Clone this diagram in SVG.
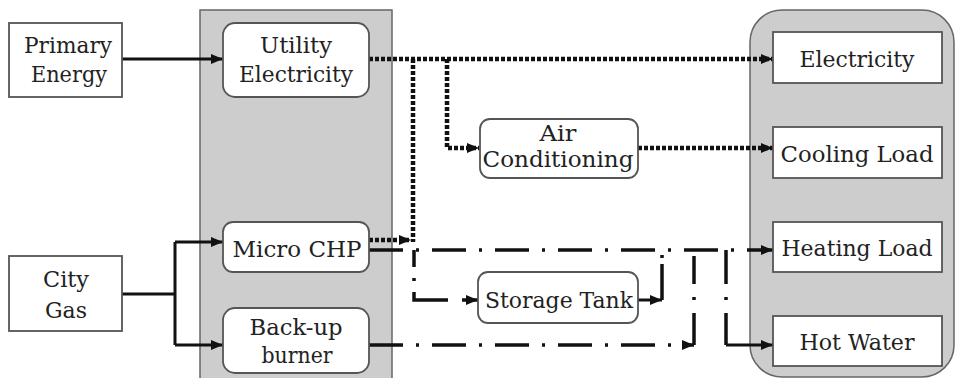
<svg xmlns="http://www.w3.org/2000/svg" width="956" height="378" viewBox="0 0 956 378">
<defs>
<marker id="ah" viewBox="0 0 12 10" refX="12" refY="5" markerWidth="12" markerHeight="10" markerUnits="userSpaceOnUse" orient="auto">
<path d="M0,0 L12,5 L0,10 z" fill="#111"/>
</marker>
<style>
.panel{fill:#cdcdcd;stroke:#666;stroke-width:1.5}
.box{fill:#fff;stroke:#555;stroke-width:1.8}
.solid{fill:none;stroke:#111;stroke-width:3}
.dot{fill:none;stroke:#111;stroke-width:4.5;stroke-dasharray:4 2}
.dd{fill:none;stroke:#111;stroke-width:3.5;stroke-dasharray:34 13 3 13}
</style>
</defs>
<rect width="956" height="378" fill="#fff"/>
<g id="panels">
<rect class="panel" x="200" y="10" width="192" height="390"/>
<rect class="panel" x="750" y="10" width="204" height="367" rx="32"/>
</g>
<g id="connectors">
<path class="solid" d="M122,59 H223" stroke-width="4" marker-end="url(#ah)"/>
<path class="solid" d="M122,294 H175 M175,242 V345"/>
<path class="solid" d="M175,242 H223" marker-end="url(#ah)"/>
<path class="solid" d="M175,345 H223" marker-end="url(#ah)"/>
<path class="dot" d="M369,59 H773" marker-end="url(#ah)"/>
<path class="dot" d="M413,59 V242"/>
<path class="dot" d="M447,59 V148 H479" marker-end="url(#ah)"/>
<path class="dot" d="M369,240 H411" marker-end="url(#ah)"/>
<path class="dot" d="M638,148 H773" marker-end="url(#ah)"/>
<path class="dd" d="M369,250 H773" marker-end="url(#ah)"/>
<path class="dd" d="M414,250 V300 H478" style="stroke-dasharray:17 11 3 11 42 14 40" marker-end="url(#ah)"/>
<path class="solid" d="M638,300 H662" stroke-width="3.5" marker-end="url(#ah)"/>
<path class="dd" d="M662,300 V252" style="stroke-dasharray:36 6 3 20"/>
<path class="dd" d="M369,345 H694" marker-end="url(#ah)"/>
<path class="dd" d="M694,345 V256" style="stroke-dasharray:32 13 3 13 40"/>
<path class="dd" d="M726,250 V345"/>
<path class="solid" d="M726,345 H773" stroke-width="3.5" marker-end="url(#ah)"/>
</g>
<g font-family="DejaVu Serif, Liberation Serif, serif" font-size="22" fill="#222" text-anchor="middle">
<g id="primary-energy">
<rect class="box" x="9" y="23" width="113" height="74"/>
<text x="68" y="53" textLength="88" lengthAdjust="spacingAndGlyphs">Primary</text>
<text x="69" y="82" textLength="76" lengthAdjust="spacingAndGlyphs">Energy</text>
</g>
<g id="city-gas">
<rect class="box" x="9" y="256" width="113" height="75"/>
<text x="66" y="287" textLength="46" lengthAdjust="spacingAndGlyphs">City</text>
<text x="66" y="318" textLength="42" lengthAdjust="spacingAndGlyphs">Gas</text>
</g>
<g id="utility-electricity">
<rect class="box" x="223" y="23" width="146" height="74" rx="12"/>
<text x="296" y="53" textLength="72" lengthAdjust="spacingAndGlyphs">Utility</text>
<text x="296" y="82" textLength="114" lengthAdjust="spacingAndGlyphs">Electricity</text>
</g>
<g id="micro-chp">
<rect class="box" x="223" y="222" width="146" height="50" rx="10"/>
<text x="297" y="257" textLength="129" lengthAdjust="spacingAndGlyphs">Micro CHP</text>
</g>
<g id="backup-burner">
<rect class="box" x="223" y="308" width="146" height="65" rx="12"/>
<text x="296" y="335" textLength="93" lengthAdjust="spacingAndGlyphs">Back-up</text>
<text x="297" y="363" textLength="71" lengthAdjust="spacingAndGlyphs">burner</text>
</g>
<g id="air-conditioning">
<rect class="box" x="480" y="119" width="158" height="59" rx="10"/>
<text x="558" y="141" textLength="37" lengthAdjust="spacingAndGlyphs">Air</text>
<text x="558" y="167" textLength="151" lengthAdjust="spacingAndGlyphs">Conditioning</text>
</g>
<g id="storage-tank">
<rect class="box" x="478" y="272" width="160" height="51" rx="10"/>
<text x="559" y="308" textLength="148" lengthAdjust="spacingAndGlyphs">Storage Tank</text>
</g>
<g id="electricity">
<rect class="box" x="773" y="32" width="169" height="51"/>
<text x="857" y="67" textLength="115" lengthAdjust="spacingAndGlyphs">Electricity</text>
</g>
<g id="cooling-load">
<rect class="box" x="773" y="127" width="169" height="51"/>
<text x="857" y="162" textLength="153" lengthAdjust="spacingAndGlyphs">Cooling Load</text>
</g>
<g id="heating-load">
<rect class="box" x="773" y="222" width="169" height="50"/>
<text x="857" y="256" textLength="151" lengthAdjust="spacingAndGlyphs">Heating Load</text>
</g>
<g id="hot-water">
<rect class="box" x="773" y="316" width="169" height="50"/>
<text x="857" y="350" textLength="115" lengthAdjust="spacingAndGlyphs">Hot Water</text>
</g>
</g>
</svg>
